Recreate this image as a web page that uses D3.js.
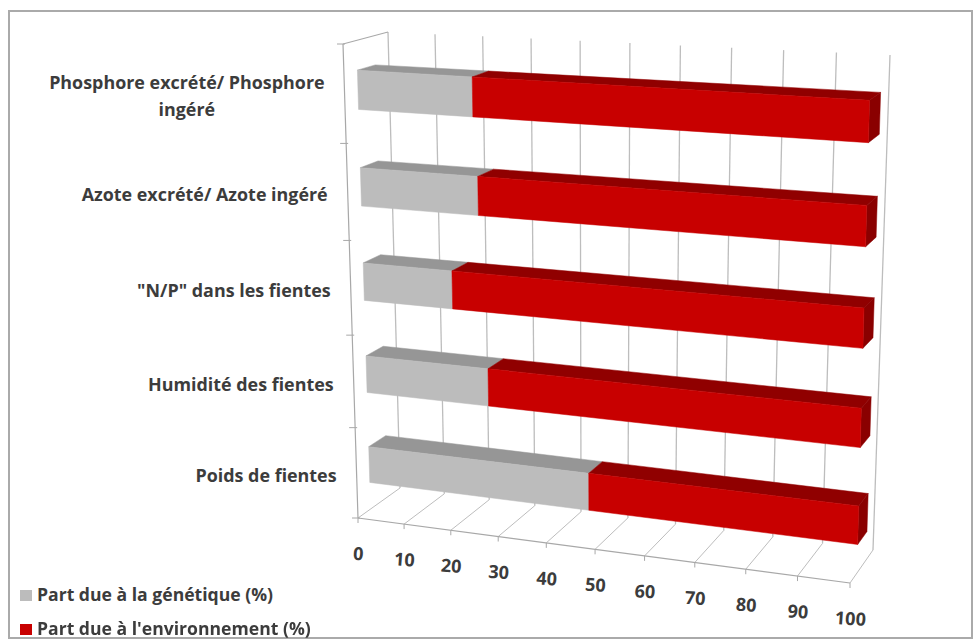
<!DOCTYPE html>
<html>
<head>
<meta charset="utf-8">
<script src="https://cdn.jsdelivr.net/npm/d3@7"></script>
<style>
  html, body { margin: 0; padding: 0; background: #fff; }
  svg { display: block; filter: blur(0.6px); }
  text { font-family: "Open Sans", sans-serif; font-weight: 700; fill: #3c3c3c; }
</style>
</head>
<body>
<div id="chart"></div>
<script>
// valeurs, de haut en bas
const categories = [
  'Phosphore excrété/ Phosphore ingéré',
  'Azote excrété/ Azote ingéré',
  '"N/P" dans les fientes',
  'Humidité des fientes',
  'Poids de fientes'
];
const genetique = [23.7, 24.5, 18.8, 26, 46.7];
const environnement = [76.3, 75.5, 81.2, 74, 53.3];
const ticks = [0, 10, 20, 30, 40, 50, 60, 70, 80, 90, 100];
const legendLabels = ['Part due à la génétique (%)', "Part due à l'environnement (%)"];

const width = 976, height = 643;

// coins de la boite 3D a l'ecran
const frontBottom = [[358, 518], [850, 583]];
const frontTop = [[343, 44], [862, 74]];
const backBottom = [[400, 488], [873, 550]];
const backTop = [[388, 32], [890, 55]];

const svg = d3.select('#chart').append('svg')
  .attr('width', width)
  .attr('height', height);

svg.append('rect')
  .attr('x', 9).attr('y', 11)
  .attr('width', 963).attr('height', 627)
  .attr('fill', '#fff')
  .attr('stroke', '#aaaaaa')
  .attr('stroke-width', 2);

const x = d3.scaleLinear().domain([0, 100]).range([0, 1]);
// bas du graphique en premier
const band = d3.scaleBand()
  .domain(categories.slice().reverse())
  .range([0, 1])
  .paddingInner(0.6)
  .paddingOuter(0.3);

function mix(a, b, t) {
  return [a[0] + (b[0] - a[0]) * t, a[1] + (b[1] - a[1]) * t];
}

// perspective: les graduations se resserrent vers le debut des axes
function warp(t, k) {
  return k * t / (1 + (k - 1) * t);
}

// v: 0-100, h: hauteur 0-1, d: profondeur 0-1
function project(v, h, d) {
  const t = warp(x(v), 0.93);
  const bottom = mix(mix(frontBottom[0], frontBottom[1], t), mix(backBottom[0], backBottom[1], t), d);
  const top = mix(mix(frontTop[0], frontTop[1], t), mix(backTop[0], backTop[1], t), d);
  return mix(bottom, top, warp(h, 0.942));
}

const line = d3.line();
const gridColor = '#bdbdbd';
const axisColor = '#a8a8a8';

function segment(g, a, b, color, w) {
  g.append('line')
    .attr('x1', a[0]).attr('y1', a[1])
    .attr('x2', b[0]).attr('y2', b[1])
    .attr('stroke', color)
    .attr('stroke-width', w);
}

// grille
const grid = svg.append('g');
ticks.forEach(t => {
  segment(grid, project(t, 0, 1), project(t, 1, 1), gridColor, 1.3);
  segment(grid, project(t, 0, 0), project(t, 0, 1), gridColor, 1);
  const p = project(t, 0, 0);
  segment(grid, p, [p[0], p[1] + 5], axisColor, 1);
});

// axe de gauche et arete du fond
segment(grid, project(0, 0, 0), project(100, 0, 0), axisColor, 1.2);
segment(grid, project(0, 0, 0), project(0, 1, 0), axisColor, 1.2);
segment(grid, project(0, 1, 0), project(0, 1, 1), axisColor, 1.2);
d3.range(0, 1.01, 0.2).forEach(h => {
  const p = project(0, h, 0);
  segment(grid, [p[0] - 6, p[1]], [p[0] + 2, p[1]], axisColor, 1);
});

// barres empilees
const d0 = 0.3, d1 = 0.7;
const bars = svg.append('g');

function face(points, color) {
  bars.append('path')
    .attr('d', line(points) + 'Z')
    .attr('fill', color)
    .attr('stroke', color)
    .attr('stroke-width', 0.5);
}

function bar(v0, v1, h0, h1, colors, withEnd) {
  face([project(v0, h1, d0), project(v1, h1, d0), project(v1, h1, d1), project(v0, h1, d1)], colors.top);
  if (withEnd) {
    face([project(v1, h0, d0), project(v1, h0, d1), project(v1, h1, d1), project(v1, h1, d0)], colors.side);
  }
  face([project(v0, h0, d0), project(v1, h0, d0), project(v1, h1, d0), project(v0, h1, d0)], colors.front);
}

const grey = { front: '#bcbcbc', top: '#969696', side: '#8a8a8a' };
const red = { front: '#c80000', top: '#900000', side: '#8a0000' };

categories.forEach((c, i) => {
  const h0 = band(c), h1 = h0 + band.bandwidth();
  bar(0, genetique[i], h0, h1, grey, false);
  bar(genetique[i], genetique[i] + environnement[i], h0, h1, red, true);
});

// etiquettes de l'axe des valeurs
svg.append('g').selectAll('text')
  .data(ticks)
  .join('text')
  .attr('font-size', 18)
  .attr('text-anchor', 'middle')
  .attr('transform', t => {
    const p = project(t, 0, 0);
    return `translate(${p[0]},${p[1] + 42}) rotate(4)`;
  })
  .text(t => t);

// etiquettes des categories
const labels = svg.append('g');
categories.forEach(c => {
  const h = band(c) + band.bandwidth() / 2;
  const p = project(0, h, 0);
  const right = p[0] - 20;
  const y = p[1] + 9;
  if (c.indexOf('Phosphore') === 0) {
    const first = labels.append('text')
      .attr('font-size', 17.9)
      .attr('text-anchor', 'end')
      .attr('x', right).attr('y', y - 14)
      .text('Phosphore excrété/ Phosphore');
    labels.append('text')
      .attr('font-size', 17.9)
      .attr('text-anchor', 'middle')
      .attr('x', right - first.node().getComputedTextLength() / 2)
      .attr('y', y + 13)
      .text('ingéré');
  } else {
    labels.append('text')
      .attr('font-size', 17.9)
      .attr('text-anchor', 'end')
      .attr('x', right).attr('y', y)
      .text(c);
  }
});

// legende
const legendColors = [grey.front, red.front];
const legend = svg.append('g').selectAll('g')
  .data(legendLabels)
  .join('g')
  .attr('transform', (d, i) => `translate(20,${590 + i * 34})`);
legend.append('rect')
  .attr('width', 12).attr('height', 11)
  .attr('fill', (d, i) => legendColors[i]);
legend.append('text')
  .attr('x', 17).attr('y', 11)
  .attr('font-size', 17.6)
  .text(d => d);
</script>
</body>
</html>
